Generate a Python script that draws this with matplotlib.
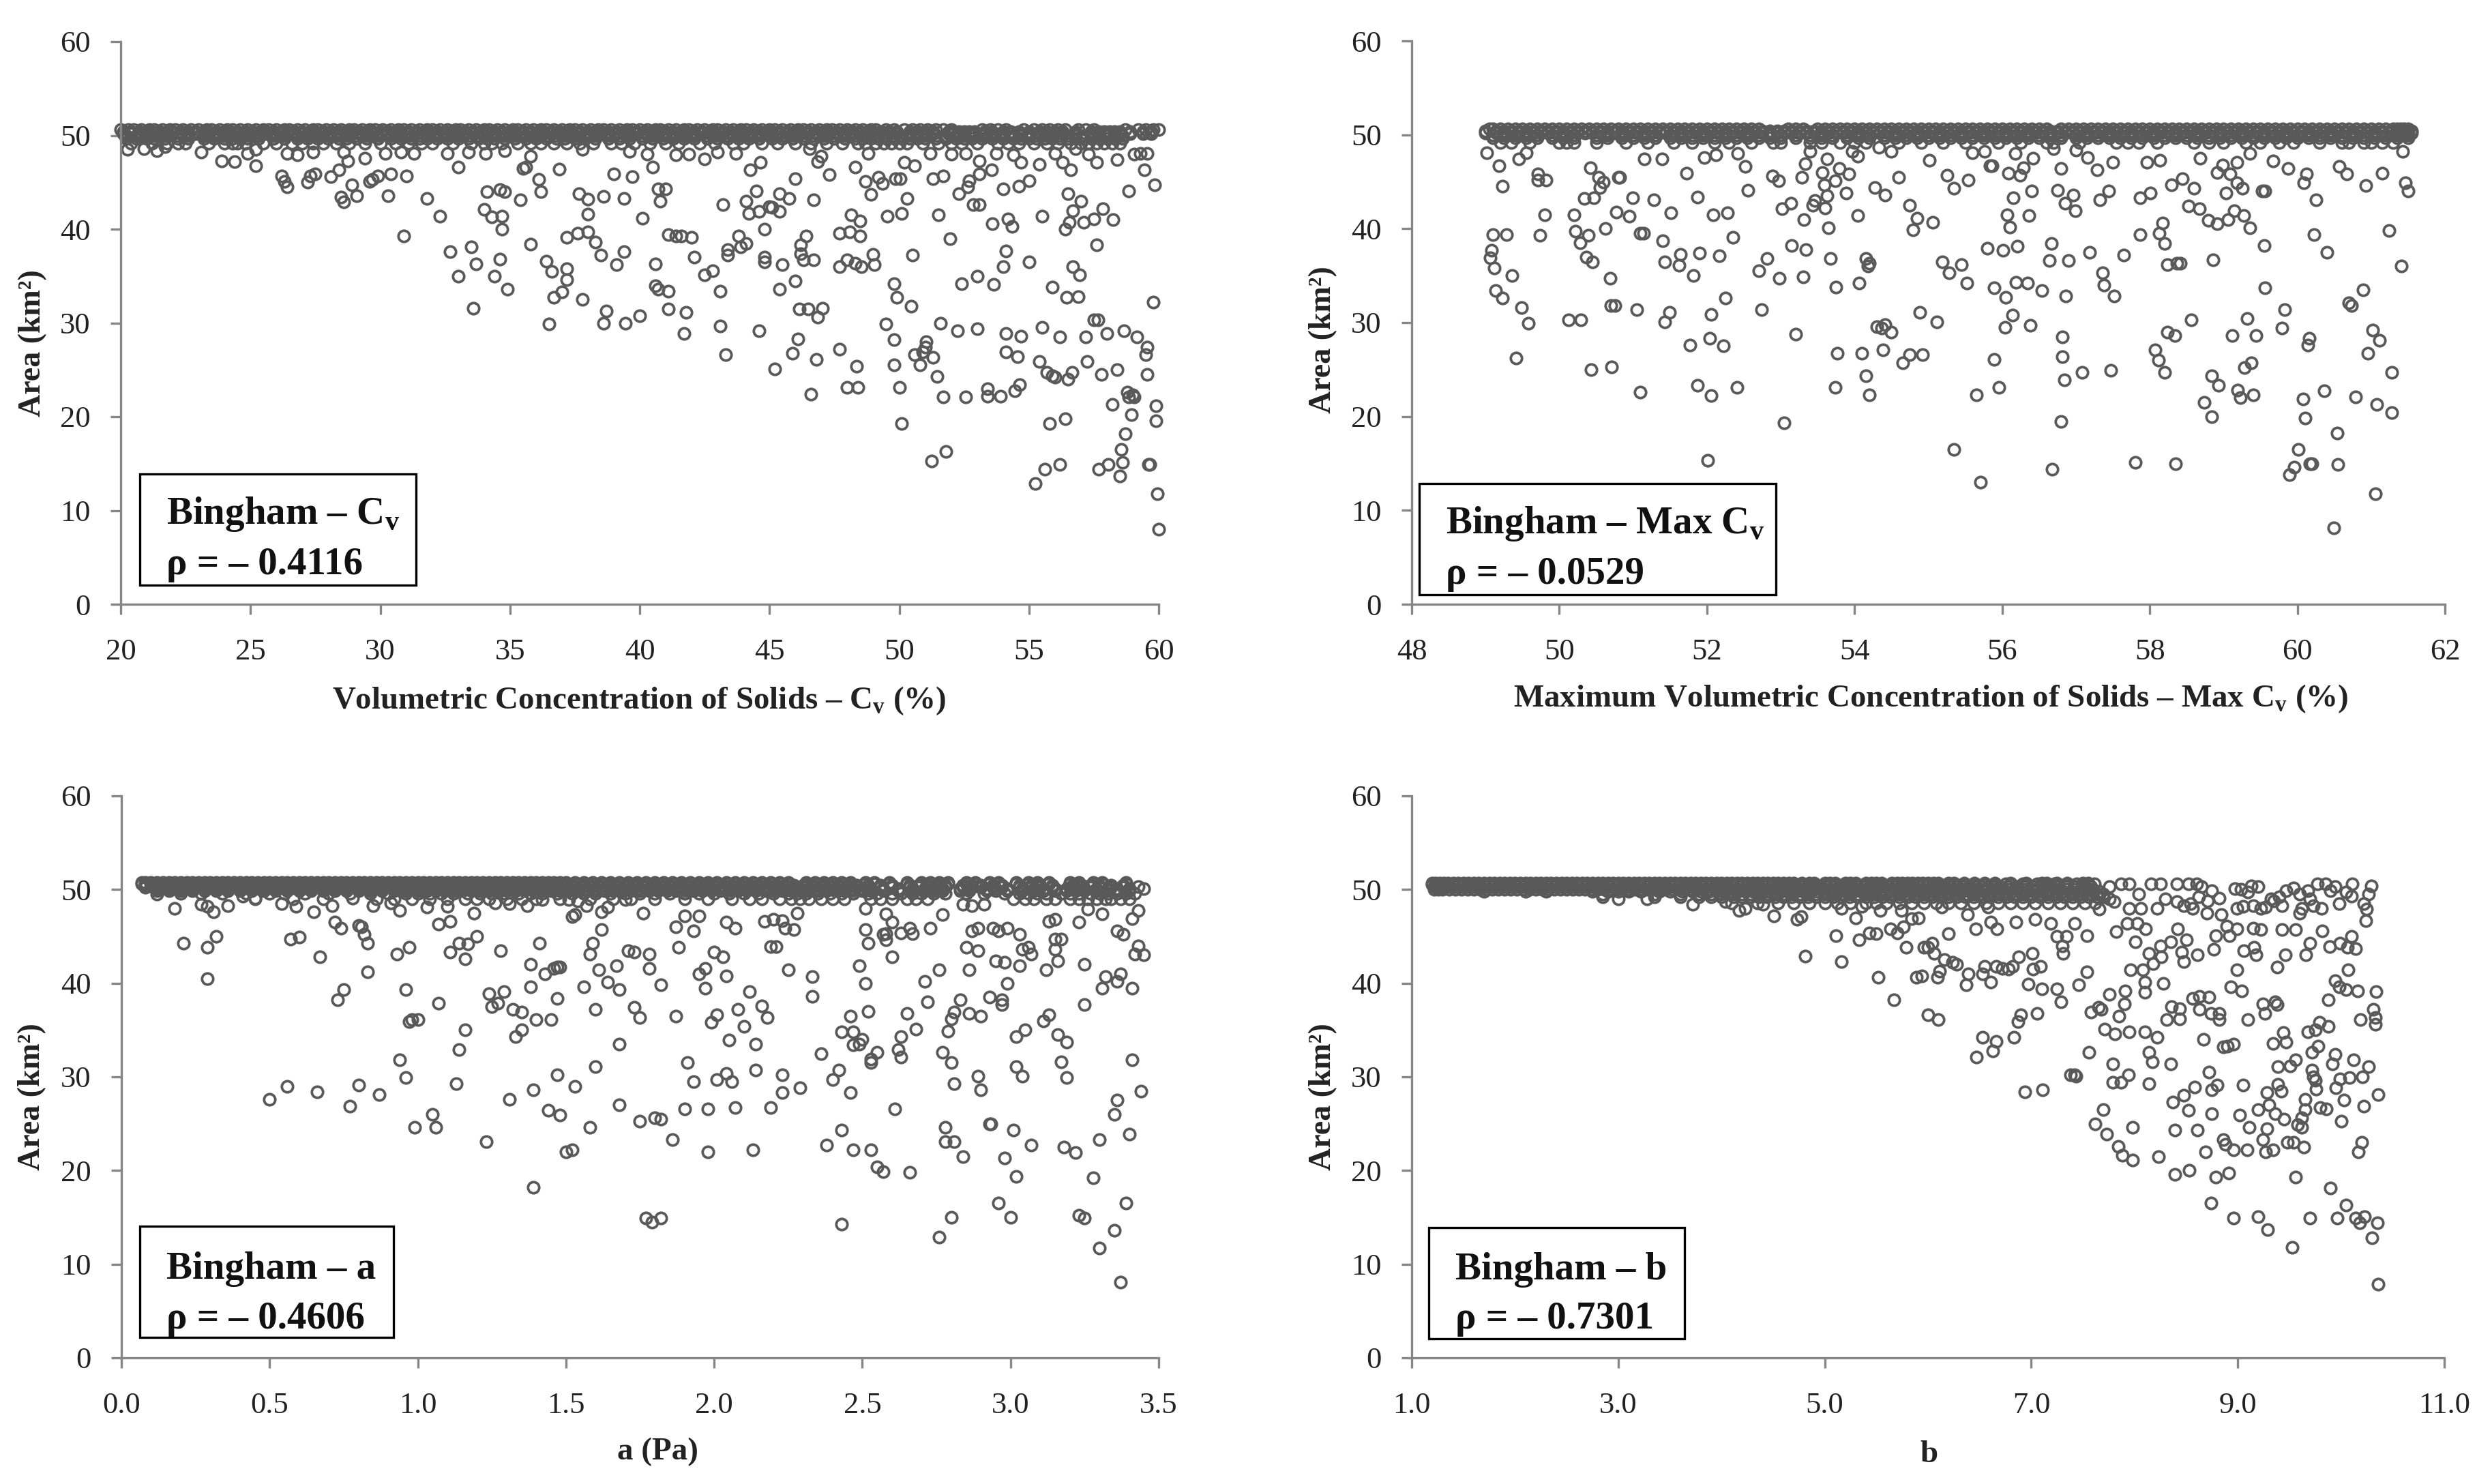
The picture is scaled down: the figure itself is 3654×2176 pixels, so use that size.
#!/usr/bin/env python3

import matplotlib
matplotlib.use("Agg")
import matplotlib.pyplot as plt
from matplotlib.patches import Rectangle

# ---- data: (x, area) for the points below the band
CV_POINTS = [
    (20.25,48.5),(20.9,48.6),(21.4,48.4),(21.7,48.8),(22.2,49.2),(23.1,48.2),(23.9,47.3),(24.4,47.2),(25.2,46.8),(24.9,48.1),
    (25.2,48.5),(26.2,45.7),(26.3,45.1),(26.4,44.5),(26.4,48.1),(26.8,47.9),(27.2,45),(27.3,45.7),(27.5,45.9),(27.4,48.2),
    (28.1,45.6),(28.4,46.3),(28.5,43.4),(28.6,42.9),(28.75,47.3),(28.9,44.7),(29.1,43.6),(28.6,48.2),(29.4,47.6),(29.6,45.1),
    (29.7,45.3),(29.9,45.7),(30.3,43.6),(30.4,45.9),(30.2,48.1),(31.0,45.7),(30.9,39.3),(30.8,48.2),(31.3,48.1),(31.8,43.3),
    (32.3,41.4),(32.7,37.6),(33.0,35),(33.0,46.6),(32.6,48.1),(33.4,48.2),(33.5,38.1),(33.7,36.3),(33.6,31.6),(34.0,42.1),
    (34.1,44),(34.3,41.3),(34.05,48.1),(34.4,35),(34.6,44.2),(34.8,44),(34.7,41.4),(34.7,40),(34.6,36.8),(34.9,33.6),
    (34.8,48.4),(35.4,43.1),(35.5,46.5),(35.6,46.6),(35.8,38.4),(35.8,47.8),(36.1,45.3),(36.2,44),(36.4,36.6),(36.6,35.5),
    (36.7,32.7),(36.5,29.9),(36.9,46.4),(37.0,33.3),(37.2,35.8),(37.2,34.6),(37.2,39.1),(37.6,39.6),(37.65,43.8),(37.8,48.5),
    (38.0,43.2),(38.0,41.6),(38.0,39.7),(37.8,32.5),(38.3,38.6),(38.5,37.2),(38.6,43.5),(38.7,31.3),(38.6,30),(39.0,45.9),
    (39.1,36.2),(39.4,43.3),(39.4,37.6),(39.45,30),(39.6,48.3),(39.7,45.6),(40.0,30.8),(40.1,41.2),(40.3,48),(40.5,46.6),
    (40.6,36.3),(40.6,34),(40.7,33.6),(40.7,44.3),(40.8,43),(41,44.3),(41.1,33.4),(41.1,31.5),(41.1,39.4),(41.4,47.9),
    (41.4,39.3),(41.6,39.3),(42.0,39.1),(41.9,48),(41.7,28.9),(41.8,31.1),(42.1,37),(42.5,47.5),(42.5,35.1),(42.8,35.6),
    (43,48.2),(43.1,33.4),(43.1,29.7),(43.2,42.6),(43.3,26.6),(43.4,37.8),(43.4,37.2),(43.7,48.1),(43.8,39.3),(43.9,38.1),
    (44.1,38.5),(44.1,43),(44.2,41.7),(44.25,46.3),(44.5,44.1),(44.6,41.9),(44.6,29.2),(44.65,47.1),(44.8,37),(44.8,36.5),
    (44.8,40),(45,42.4),(45.1,42.3),(45.4,43.8),(45.4,41.9),(45.4,33.6),(45.2,25.1),(45.5,36.2),(45.75,43.3),(45.9,26.8),
    (46,34.5),(46,45.4),(46.1,28.3),(46.15,31.5),(46.2,38.3),(46.2,37.4),(46.3,36.7),(46.4,39.3),(46.5,31.5),(46.6,22.4),
    (46.7,36.7),(46.7,43.1),(46.55,48.6),(46.8,26.1),(46.85,30.6),(46.85,47.2),(47,47.8),(47.05,31.6),(47.3,45.8),(47.7,27.2),
    (47.7,39.6),(47.7,36),(48,23.1),(48,36.7),(48.1,39.7),(48.15,41.5),(48.3,46.6),(48.3,36.4),(48.35,25.4),(48.4,23.1),
    (48.5,40.9),(48.5,39.3),(48.55,36),(48.7,45.1),(48.8,48.1),(48.9,43.7),(49,37.3),(49.05,36.2),(49.2,45.5),(49.35,44.9),
    (49.5,29.9),(49.55,41.4),(49.8,34.2),(49.8,28.2),(49.8,25.5),(49.9,32.7),(49.85,45.4),(50,23.1),(50.05,45.4),(50.1,41.7),
    (50.1,19.3),(50.2,47.1),(50.3,43.3),(50.45,31.8),(50.5,37.2),(50.6,46.8),(50.6,26.6),(50.8,25.5),(50.9,26.9),(51,27.4),
    (51.05,28),(51.2,48.1),(51.25,15.3),(51.3,26.3),(51.3,45.4),(51.45,24.3),(51.5,41.5),(51.6,30),(51.7,22.1),(51.7,45.7),
    (51.8,16.3),(51.95,39),(52,48),(52.25,29.2),(52.3,43.8),(52.4,34.2),(52.55,22.1),(52.55,48.1),(52.65,44.5),(52.7,45.2),
    (52.85,42.6),(53,29.4),(53,35),(53.1,42.6),(53.1,47.3),(53.1,45.9),(53.4,23),(53.4,22.2),(53.55,46.3),(53.6,40.6),
    (53.65,34.1),(53.75,48.1),(53.9,22.2),(54,44.3),(54,36),(54.1,37.7),(54.1,28.9),(54.1,26.9),(54.2,41.1),(54.35,40.3),
    (54.4,47.9),(54.45,22.8),(54.55,26.4),(54.6,44.6),(54.65,23.4),(54.7,28.6),(54.7,47.1),(55,45.2),(55,36.5),(55.25,12.9),
    (55.4,46.9),(55.4,25.9),(55.5,41.4),(55.5,29.5),(55.6,14.4),(55.7,24.7),(55.8,19.3),(55.9,24.4),(55.9,33.8),(56,48.1),
    (56,24.2),(56.2,14.9),(56.2,28.5),(56.3,47.1),(56.4,19.8),(56.4,40),(56.5,43.8),(56.45,32.7),(56.5,24),(56.55,40.7),
    (56.6,46.3),(56.65,24.7),(56.7,42),(56.7,36),(56.9,32.8),(56.95,35.1),(57,43),(57.1,40.7),(56.8,48.6),(57.2,28.5),
    (57.25,25.9),(57.3,48),(57.5,41.1),(57.5,30.3),(57.65,30.3),(57.6,38.3),(57.6,47.1),(57.7,14.4),(57.8,24.5),(57.85,42.2),
    (58,28.9),(58.05,14.9),(58.2,21.3),(58.25,41),(58.4,47.4),(58.4,25),(58.5,13.7),(58.55,16.5),(58.6,15.1),(58.65,29.2),
    (58.7,18.2),(58.8,22.6),(58.85,44.1),(58.85,22.1),(59,22.3),(59.05,22.1),(58.95,20.2),(59.05,48),(59.15,28.5),(59.3,48.1),
    (59.55,48.1),(59.45,46.3),(59.55,27.4),(59.5,26.6),(59.55,24.5),(59.6,14.9),(59.65,14.9),(59.8,32.2),(59.85,44.7),(59.9,21.2),
    (59.9,19.6),(59.95,11.8),(60,8),
]

MAX_CV_POINTS = [
    (49.02,48.1),(49.18,46.7),(49.23,44.5),(49.1,39.4),(49.28,39.4),(49.08,37.7),(49.06,36.9),(49.12,35.8),(49.36,35),(49.14,33.4),
    (49.23,32.6),(49.49,31.6),(49.58,29.9),(49.41,26.2),(49.45,47.4),(49.55,48.1),(49.71,45.8),(49.71,45.2),(49.82,45.2),(49.8,41.5),
    (49.74,39.3),(50.13,30.3),(50.29,30.3),(50.2,41.5),(50.22,39.7),(50.28,38.5),(50.37,37),(50.39,39.3),(50.45,36.5),(50.34,43.2),
    (50.47,43.3),(50.42,46.5),(50.53,45.5),(50.6,45),(50.55,44.4),(50.43,25),(50.71,25.3),(50.69,34.7),(50.7,31.8),(50.75,31.8),
    (50.62,40),(50.77,41.8),(50.8,45.5),(50.82,45.5),(50.95,41.3),(50.99,43.3),(51.05,31.4),(51.1,39.5),(51.14,39.5),(51.15,47.4),
    (51.1,22.6),(51.28,43.1),(51.39,47.4),(51.4,38.7),(51.43,36.5),(51.43,30.1),(51.49,31.1),(51.51,41.7),(51.62,36.1),(51.64,37.3),
    (51.72,45.9),(51.77,27.6),(51.82,35),(51.87,43.4),(51.87,23.3),(51.9,37.4),(51.96,47.6),(52.01,15.3),(52.04,28.3),(52.06,30.9),
    (52.06,22.2),(52.08,41.5),(52.12,47.9),(52.17,37.1),(52.22,27.5),(52.25,32.6),(52.28,41.7),(52.35,39.1),(52.41,23.1),(52.42,48),
    (52.52,46.6),(52.56,44.1),(52.7,35.5),(52.74,31.4),(52.81,36.8),(52.89,45.6),(52.97,45.1),(52.98,34.7),(53.02,42.1),(53.05,19.3),
    (53.14,42.7),(53.15,38.2),(53.2,28.8),(53.29,45.5),(53.3,34.9),(53.31,41),(53.33,46.9),(53.34,37.8),(53.4,48.2),(53.43,42.5),
    (53.46,43),(53.56,46),(53.59,44.7),(53.6,42.2),(53.63,47.4),(53.63,43.5),(53.65,40.1),(53.67,36.8),(53.74,45.1),(53.74,23.1),
    (53.75,33.8),(53.77,26.7),(53.79,46.4),(53.89,43.8),(53.92,45.8),(53.97,48.2),(54.04,47.7),(54.04,41.4),(54.06,34.2),(54.1,26.7),
    (54.15,24.3),(54.15,36.8),(54.2,36.3),(54.18,36),(54.2,22.3),(54.27,44.4),(54.3,29.6),(54.37,29.4),(54.41,29.8),(54.5,29),
    (54.39,27.1),(54.41,43.6),(54.33,48.7),(54.5,48.2),(54.6,45.5),(54.65,25.7),(54.75,26.6),(54.92,26.6),(54.75,42.5),(54.85,41.1),
    (54.79,39.9),(55.06,40.7),(54.88,31.1),(55.12,30.1),(55.01,47.3),(55.25,45.7),(55.35,44.3),(55.54,45.2),(55.19,36.5),(55.28,35.3),
    (55.45,36.2),(55.52,34.2),(55.35,16.5),(55.71,13),(55.65,22.3),(55.6,48.1),(55.76,48.2),(55.84,46.7),(55.86,46.7),(55.8,37.9),
    (55.89,33.7),(55.89,26.1),(55.96,23.1),(56.01,37.7),(56.05,32.7),(56.04,29.5),(56.14,30.8),(56.07,41.5),(56.1,40.2),(56.09,45.9),
    (56.15,43.3),(56.21,38.1),(56.19,34.3),(56.18,48),(56.24,45.7),(56.29,46.5),(56.34,34.2),(56.36,41.4),(56.38,29.7),(56.4,44),
    (56.42,47.5),(56.54,33.4),(56.64,36.6),(56.67,38.4),(56.68,14.4),(56.7,48.5),(56.75,44.1),(56.8,46.4),(56.8,19.5),(56.82,28.5),
    (56.82,26.4),(56.84,23.9),(56.86,32.8),(56.85,42.7),(56.9,36.6),(56.96,43.6),(56.99,41.9),(57,48.4),(57.08,24.7),(57.16,47.6),
    (57.19,37.5),(57.29,46.3),(57.32,43.1),(57.36,35.3),(57.38,34),(57.44,44),(57.47,24.9),(57.5,47.1),(57.52,32.8),(57.65,37.2),
    (57.8,15.1),(57.87,43.3),(57.87,39.4),(57.96,47.1),(58.01,43.8),(58.07,27.1),(58.12,26),(58.13,39.5),(58.17,40.6),(58.2,38.4),
    (58.14,47.3),(58.2,24.7),(58.24,36.2),(58.24,29),(58.34,28.6),(58.35,15),(58.37,36.3),(58.41,36.3),(58.29,44.7),(58.44,45.3),
    (58.53,42.4),(58.56,30.3),(58.6,44.3),(58.67,42.1),(58.68,47.5),(58.74,21.5),(58.79,40.9),(58.84,24.3),(58.84,20),(58.86,36.7),
    (58.91,40.5),(58.93,23.3),(58.91,46),(58.99,46.8),(59.03,43.8),(59.06,41),(59.09,45.8),(59.12,28.6),(59.14,41.9),(59.18,44.9),
    (59.18,47.1),(59.19,22.8),(59.23,22),(59.26,44.3),(59.27,41.4),(59.28,25.2),(59.32,30.4),(59.36,48),(59.36,40.1),(59.38,25.7),
    (59.4,22.3),(59.44,28.6),(59.52,44),(59.56,44),(59.55,38.2),(59.56,33.7),(59.67,47.2),(59.79,29.4),(59.83,31.4),(59.87,46.4),
    (59.89,13.8),(59.96,14.6),(60.01,16.5),(60.08,21.9),(60.09,44.9),(60.12,45.8),(60.11,19.8),(60.14,27.6),(60.16,28.3),(60.17,15),
    (60.2,15),(60.23,39.4),(60.25,43.1),(60.36,22.7),(60.4,37.5),(60.49,8.1),(60.54,18.2),(60.55,14.9),(60.57,46.6),(60.67,45.8),
    (60.7,32.1),(60.73,31.8),(60.79,22.1),(60.89,33.5),(60.93,44.6),(60.96,26.7),(61.02,29.2),(61.06,11.8),(61.08,21.3),(61.11,28.1),
    (61.15,45.9),(61.24,39.8),(61.28,24.7),(61.28,20.4),(61.41,36),(61.43,48.2),(61.46,44.9),(61.5,44),
]

A_POINTS = [
    (.12,49.5),(.18,48),(.21,44.3),(.27,48.4),(.29,43.8),(.29,40.5),(.29,48.2),(.31,47.6),(.32,45),(.36,48.3),
    (.41,49.3),(.45,49.1),(.5,27.6),(.54,48.5),(.56,29),(.57,44.7),(.6,44.9),(.59,48.2),(.65,47.6),(.66,28.4),
    (.67,42.8),(.71,48.3),(.72,46.5),(.74,45.9),(.73,38.2),(.75,39.3),(.77,26.9),(.78,49.1),(.8,29.1),(.8,46.2),
    (.81,46),(.82,45.2),(.83,44.3),(.83,41.2),(.85,48.3),(.87,28.1),(.91,48.6),(.93,43.1),(.94,47.8),(.94,31.8),
    (.96,29.9),(.96,39.3),(.97,43.8),(.97,35.9),(.98,36.1),(1.0,36.1),(.99,24.6),(1.03,48.1),(1.05,26),(1.06,24.6),
    (1.07,46.3),(1.07,37.9),(1.1,48.2),(1.11,46.6),(1.11,43.3),(1.13,29.3),(1.14,44.3),(1.14,32.9),(1.16,42.6),(1.16,35),
    (1.17,44.2),(1.19,47.5),(1.2,45),(1.23,23.1),(1.24,38.9),(1.25,37.5),(1.27,37.9),(1.26,48.6),(1.28,43.5),(1.29,39.1),
    (1.31,27.6),(1.31,48.5),(1.32,37.2),(1.33,34.3),(1.35,36.9),(1.35,35),(1.37,48.3),(1.38,42),(1.38,39.6),(1.39,28.6),
    (1.39,18.2),(1.4,36.1),(1.41,44.3),(1.42,48.9),(1.43,41),(1.44,26.4),(1.45,36.1),(1.46,41.6),(1.47,38.4),(1.47,30.2),
    (1.47,41.7),(1.48,25.9),(1.48,41.7),(1.5,22),(1.52,22.2),(1.51,48.9),(1.52,47.1),(1.53,47.3),(1.53,29),(1.54,48.8),
    (1.56,39.6),(1.57,48.3),(1.58,43.1),(1.58,24.6),(1.59,44.3),(1.6,31.1),(1.6,37.2),(1.61,41.4),(1.62,47.6),(1.62,45.7),
    (1.64,40.1),(1.64,48.1),(1.67,41.9),(1.68,39.3),(1.68,33.5),(1.68,27),(1.7,48.9),(1.71,43.5),(1.73,43.3),(1.73,37.4),
    (1.75,36.3),(1.75,25.3),(1.76,47.5),(1.78,43.1),(1.78,41.6),(1.77,14.9),(1.79,14.5),(1.8,25.6),(1.82,25.5),(1.82,14.9),
    (1.82,39.8),(1.86,23.3),(1.87,36.5),(1.87,46),(1.88,43.8),(1.9,47.2),(1.9,26.6),(1.91,31.5),(1.93,29.5),(1.93,45.6),
    (1.95,41),(1.95,47.2),(1.97,39.5),(1.97,41.6),(1.98,26.6),(1.98,22),(1.99,35.8),(2,43.3),(2.01,29.7),(2.01,36.6),
    (2.03,42.8),(2.04,40.8),(2.04,46.5),(2.04,30.4),(2.05,33.9),(2.06,29.5),(2.07,45.9),(2.07,26.7),(2.08,37.2),(2.1,35.4),
    (2.12,39.1),(2.13,22.2),(2.14,33.5),(2.14,30.7),(2.16,37.6),(2.17,46.6),(2.18,36.3),(2.19,26.7),(2.2,46.8),(2.19,43.9),
    (2.21,43.9),(2.23,30.2),(2.23,46.7),(2.23,28.3),(2.24,45.9),(2.25,41.4),(2.27,45.7),(2.29,28.8),(2.28,47.5),(2.33,40.7),
    (2.33,38.6),(2.36,32.5),(2.38,22.7),(2.4,29.7),(2.42,30.7),(2.43,24.3),(2.43,14.3),(2.43,34.8),(2.46,28.3),(2.46,36.5),
    (2.47,22.2),(2.47,34.8),(2.47,33.4),(2.49,33.5),(2.5,34),(2.49,41.9),(2.51,40),(2.51,45.7),(2.52,44.3),(2.51,48),
    (2.52,37),(2.53,31.9),(2.53,31.5),(2.53,22.2),(2.55,32.6),(2.55,20.4),(2.57,19.9),(2.57,45.2),(2.58,45.3),(2.58,44.6),
    (2.58,47.4),(2.6,42.8),(2.61,26.6),(2.6,46.5),(2.62,32.9),(2.63,34.3),(2.63,45.4),(2.63,32.1),(2.65,36.8),(2.66,45.9),
    (2.67,45.3),(2.66,19.8),(2.68,35.1),(2.71,40.2),(2.72,38),(2.73,45.9),(2.76,41.4),(2.76,12.9),(2.77,32.6),(2.77,47.3),
    (2.78,24.6),(2.78,23.1),(2.79,34.9),(2.8,15),(2.8,36.2),(2.81,36.9),(2.8,31.5),(2.81,23.1),(2.81,29.3),(2.83,38.2),
    (2.84,48.4),(2.84,21.5),(2.85,43.8),(2.86,41.4),(2.86,36.8),(2.87,45.6),(2.87,48.3),(2.89,30.1),(2.89,45.9),(2.89,43.5),
    (2.9,36.5),(2.9,28.6),(2.91,48.4),(2.93,38.5),(2.93,25),(2.935,25),(2.94,45.9),(2.95,42.4),(2.96,16.5),(2.96,45.6),
    (2.97,38.2),(2.97,37.7),(2.98,21.3),(2.99,45.9),(2.98,42.2),(2.99,40),(3,15),(3.01,24.3),(3.02,34.3),(3.02,31.1),
    (3.02,19.4),(3.03,45.2),(3.03,41.9),(3.04,30.1),(3.04,43.6),(3.05,35),(3.06,43.8),(3.07,43.1),(3.07,22.7),(3.11,36),
    (3.12,41.4),(3.13,36.6),(3.13,46.6),(3.15,46.8),(3.15,43.6),(3.15,44.7),(3.16,42.4),(3.16,34.5),(3.17,31.6),(3.17,44.7),
    (3.19,33.7),(3.18,22.5),(3.19,29.9),(3.22,21.9),(3.23,15.2),(3.23,46.5),(3.25,37.7),(3.25,14.9),(3.25,42),(3.26,47.9),
    (3.28,19.2),(3.3,11.7),(3.3,23.3),(3.31,39.5),(3.32,40.7),(3.31,47.4),(3.35,26),(3.35,13.6),(3.36,45.6),(3.36,27.5),
    (3.36,40.2),(3.37,41),(3.37,8.1),(3.38,45.2),(3.39,16.5),(3.4,23.9),(3.41,31.8),(3.41,46.9),(3.42,43.1),(3.43,44),
    (3.41,39.5),(3.43,47.8),(3.44,28.5),(3.45,43),(3.43,50.3),(3.45,50.1),
]

B_POINTS = [
    (3.0,49),(3.28,49),(3.72,48.4),(4.04,48.7),(4.17,47.8),(4.23,48),(4.4,48.4),(4.51,47.2),(4.73,46.8),(4.77,47.1),
    (4.81,42.9),(5.11,45.1),(5.16,42.3),(5.16,48),(5.3,47),(5.33,44.6),(5.36,48.2),(5.43,45.4),(5.5,45.3),(5.52,40.6),
    (5.54,47.8),(5.64,45.8),(5.7,45.4),(5.67,38.2),(5.74,47.8),(5.76,46),(5.79,43.8),(5.84,46.9),(5.91,47),(5.89,40.6),
    (5.94,40.8),(5.96,43.8),(6,36.6),(6.0,43.8),(6.04,44.3),(6.06,43.2),(6.09,40.6),(6.1,36.1),(6.11,41.3),(6.13,48.1),
    (6.16,42.5),(6.2,45.3),(6.24,42.2),(6.28,42),(6.37,39.8),(6.39,41),(6.38,47.3),(6.46,45.8),(6.47,32.1),(6.53,41),
    (6.55,41.8),(6.53,34.2),(6.58,48.1),(6.61,46.5),(6.61,40.1),(6.63,32.8),(6.66,33.8),(6.67,45.8),(6.66,41.8),(6.72,41.6),
    (6.78,41.5),(6.83,34.2),(6.82,41.8),(6.85,46.5),(6.88,42.8),(6.87,35.9),(6.9,36.6),(6.94,28.4),(6.97,39.9),(7.01,43.2),
    (7.02,41.5),(7.04,46.8),(7.06,36.8),(7.09,41.8),(7.1,39.4),(7.11,28.6),(7.19,46.4),(7.25,39.4),(7.25,45),(7.29,38),
    (7.3,44),(7.31,43.2),(7.34,45),(7.38,30.2),(7.42,30.2),(7.43,30.1),(7.42,46.4),(7.46,39.8),(7.54,45.1),(7.54,41.2),
    (7.56,32.6),(7.58,36.9),(7.62,25),(7.65,37.4),(7.68,37.2),(7.7,26.5),(7.73,23.9),(7.71,35.1),(7.76,38.8),(7.79,29.4),
    (7.79,31.4),(7.81,34.6),(7.82,45.5),(7.84,22.6),(7.85,36.5),(7.87,29.4),(7.88,21.6),(7.91,39.2),(7.9,37.8),(7.94,30.2),
    (7.95,34.8),(7.93,46.4),(7.96,41.4),(7.98,21.1),(7.98,24.6),(8.01,44.4),(8.03,46.4),(8.08,41.4),(8.1,34.8),(8.11,45.8),
    (8.1,39),(8.1,40.1),(8.14,32.6),(8.14,29.3),(8.14,43.2),(8.17,31.6),(8.18,42.1),(8.22,34.2),(8.23,21.5),(8.25,44),
    (8.26,42.8),(8.28,40),(8.31,36.1),(8.35,31.4),(8.35,44.4),(8.36,37.5),(8.39,19.6),(8.37,27.3),(8.39,24.3),(8.42,45.8),
    (8.44,37.3),(8.44,36.2),(8.46,43.3),(8.48,28),(8.48,42.3),(8.5,44.6),(8.52,26.4),(8.53,20),(8.56,38.4),(8.58,28.9),
    (8.61,43),(8.61,24.3),(8.63,37.2),(8.63,38.6),(8.67,34),(8.7,47.5),(8.72,38.5),(8.69,22),(8.72,30.5),(8.74,16.5),
    (8.74,36.8),(8.75,28.6),(8.75,26.1),(8.77,43.6),(8.79,45.1),(8.79,19.3),(8.8,29.1),(8.82,36.8),(8.82,36.1),(8.84,47.3),
    (8.86,33.2),(8.86,23.3),(8.88,22.8),(8.89,46.1),(8.9,33.3),(8.91,19.7),(8.92,45.1),(8.96,33.5),(8.96,14.9),(8.96,22.2),
    (8.93,39.6),(8.99,45.8),(8.99,41.4),(9.02,25.9),(9.04,39.2),(9.05,29.1),(9.06,43.5),(9.09,22.2),(9.1,36.1),(9.11,24.6),
    (9.15,45.9),(9.16,43.8),(9.18,43),(9.2,26.5),(9.2,15.1),(9.22,45.7),(9.24,37.8),(9.24,23.3),(9.26,36.8),(9.27,22),
    (9.28,28.3),(9.28,24.5),(9.29,13.7),(9.3,27),(9.34,22.2),(9.34,33.6),(9.36,38),(9.38,37.7),(9.38,41.7),(9.36,26.1),
    (9.39,31.1),(9.39,29.2),(9.42,28.5),(9.43,45.7),(9.44,34.7),(9.45,25.5),(9.46,43),(9.47,33.7),(9.48,23),(9.51,31.2),
    (9.53,11.8),(9.54,23),(9.56,31.8),(9.56,45.7),(9.56,19.3),(9.58,24.9),(9.62,24.6),(9.62,25.6),(9.64,22.5),(9.65,26.5),
    (9.65,27.6),(9.66,43),(9.68,34.8),(9.7,44.3),(9.7,14.9),(9.72,32.6),(9.72,30.7),(9.73,30),(9.75,29.6),(9.76,28.7),
    (9.75,35),(9.78,33.3),(9.79,35.8),(9.8,26.7),(9.82,45.6),(9.86,26.6),(9.88,38.2),(9.88,35.4),(9.89,43.9),(9.9,18.1),
    (9.92,31.4),(9.94,32.4),(9.94,40.3),(9.96,14.9),(9.98,39.6),(9.95,28.8),(9.99,29.8),(9.99,44.3),(10,25.3),(10.03,27.5),
    (10.05,39.3),(10.05,16.3),(10.06,43.8),(10.07,41.4),(10.08,29.9),(10.1,45),(10.12,31.8),(10.14,43.7),(10.14,14.9),(10.16,39.2),
    (10.18,14.4),(10.17,22),(10.19,36.1),(10.2,23),(10.21,30),(10.22,26.9),(10.23,15.1),(10.24,46.7),(10.27,31.1),(10.3,12.8),
    (10.31,37.2),(10.33,36.3),(10.33,35.6),(10.34,39.1),(10.35,14.4),(10.36,28.1),(10.36,7.9),
    # sparse right end of the band
    (6.75,50.6),(6.92,50.6),(7.06,50.6),(7.22,50.6),(7.44,50.6),(7.49,50.6),(7.61,50.6),(7.76,50.3),(7.87,50.6),(7.95,50.6),
    (8.04,49.5),(8.16,50.6),(8.25,50.6),(8.41,50.6),(8.52,50.6),(8.6,50.6),(8.65,50.3),(8.82,49.1),(8.97,50.1),(9.03,50),
    (9.13,50.4),(9.32,49),(9.47,49.9),(9.54,50.2),(9.68,49.9),(9.77,50.6),(9.85,50.6),(9.94,50.3),(10.11,50.6),(10.29,50.4),
    (10.27,49.5),(10.1,49.3),(9.98,48.5),(9.81,48),(9.73,48.3),(9.6,47.5),(9.62,48),(9.43,48.3),(9.35,48.8),(9.22,48),
    (9.15,48.3),(8.99,48),(8.71,48.8),(8.56,48),(8.54,48.5),(8.41,48.7),(8.22,48),(8.06,48),(7.95,48),(7.8,48.7),
    (7.66,47.9),(7.76,49),(8.3,49),(8.48,48.3),(8.62,49.2),(8.75,49.9),(9.05,48.2),(9.1,49.7),(9.2,50.3),(9.27,48.1),
    (9.4,49.2),(9.6,49.5),(9.7,49),(9.9,49.9),(10.05,49.7),(10.22,48.5),(10.25,47.9),
]

# ---- the dense band near the 50 km2 plateau, one x list per area level
CV_BAND_LEVELS = [50.6, 50.2, 49.7, 49.2, 50.4, 49.95]
CV_BAND_X = [
    [20.0,20.3,20.5,20.8,21.1,21.3,21.6,21.9,22.1,22.4,22.7,23.0,23.3,23.5,23.8,24.1,24.3,24.6,24.9,25.2,25.5,25.7,26.0,26.3,26.5,26.8,27.1,27.4,27.6,27.9,28.2,28.5,28.8,29.0,29.3,29.6,29.8,30.1,30.4,30.7,30.9,31.2,31.5,31.8,32.0,32.3,32.6,32.9,33.1,33.4,33.7,34.0,34.2,34.5,34.8,35.1,35.3,35.6,35.9,36.2,36.4,36.7,37.0,37.3,37.5,37.8,38.1,38.4,38.6,38.9,39.2,39.5,39.7,40.0,40.3,40.6,40.8,41.1,41.4,41.7,41.9,42.2,42.5,42.8,43.0,43.3,43.6,43.9,44.1,44.4,44.7,45.0,45.2,45.5,45.8,46.1,46.3,46.6,46.9,47.2,47.4,47.7,48.0,48.3,48.6,48.9,49.1,49.5,49.8,50.2,50.5,50.8,51.1,51.4,51.7,52.0,53.2,53.5,53.8,54.1,54.8,55.2,55.5,55.8,56.1,56.4,56.9,57.2,57.5,58.7,59.2,59.5,59.8,60.0],
    [20.1,20.4,20.7,21.0,21.2,21.5,21.8,22.0,22.3,22.6,22.9,23.2,23.4,23.7,24.0,24.2,24.5,24.8,25.1,25.4,25.6,25.9,26.2,26.4,26.7,27.0,27.3,27.5,27.8,28.1,28.4,28.7,28.9,29.2,29.5,29.7,30.0,30.3,30.6,30.8,31.1,31.4,31.7,31.9,32.2,32.5,32.8,33.0,33.3,33.6,33.9,34.1,34.4,34.7,35.0,35.2,35.5,35.8,36.1,36.3,36.6,36.9,37.2,37.4,37.7,38.0,38.3,38.5,38.8,39.1,39.4,39.6,39.9,40.2,40.5,40.7,41.0,41.3,41.6,41.8,42.1,42.4,42.7,42.9,43.2,43.5,43.8,44.0,44.3,44.6,44.9,45.1,45.4,45.7,46.0,46.2,46.5,46.8,47.1,47.3,47.6,47.9,48.2,48.5,48.8,49.0,49.3,49.6,49.9,50.4,50.7,51.0,51.3,51.9,52.1,52.3,52.5,52.7,52.9,53.3,53.6,54.0,54.3,54.6,55.0,55.4,55.7,56.0,56.3,56.8,57.4,57.7,57.9,58.1,58.3,58.5,58.9,59.4,59.7],
    [20.2,20.6,21.0,21.3,21.7,22.2,22.6,23.2,23.6,24.0,24.3,24.6,24.9,25.3,25.9,26.3,26.8,27.2,27.6,28.0,28.4,28.7,29.1,29.5,29.9,30.4,30.8,31.2,31.5,31.8,32.2,32.6,33.0,33.4,33.8,34.1,34.4,34.8,35.2,35.6,36.0,36.4,36.8,37.1,37.5,37.9,38.3,38.8,39.2,39.6,40.1,40.5,40.9,41.3,41.7,42.1,42.6,43.0,43.4,43.8,44.2,44.6,45.1,45.5,45.9,46.3,46.7,47.1,47.5,47.9,48.3,48.6,48.9,49.2,49.5,49.8,50.1,50.4,50.7,51.0,51.4,51.8,52.2,52.5,52.8,53.2,53.6,54.0,54.4,54.7,55.0,55.3,55.6,55.9,56.2,56.5,56.8,57.1,57.4,57.7,58.0,58.3,58.6],
    [20.4,21.2,21.8,22.5,23.4,24.0,24.3,24.5,24.8,25.5,26.0,26.6,27.0,27.4,27.8,28.3,28.8,29.4,30.0,30.6,31.1,31.6,32.0,32.8,33.5,34.0,34.3,34.7,35.3,35.8,36.2,36.7,37.2,37.7,38.2,38.9,39.3,39.8,40.4,41.0,41.5,42.3,42.9,43.6,44.0,44.7,45.3,46.0,46.6,47.2,47.8,48.4,48.7,49.1,49.4,49.7,50.0,50.3,50.9,51.5,52.0,52.4,53.0,53.8,54.2,54.6,55.2,55.7,56.1,56.6,57.0,57.3,57.6,57.9,58.2,58.5],
]
CV_BAND_X = CV_BAND_X + CV_BAND_X[1:3]

MAX_CV_BAND_LEVELS = [50.65, 50.2, 49.7, 49.2, 50.4, 49.95]
MAX_CV_BAND_X = [
    [49.05,49.1,49.2,49.3,49.4,49.5,49.6,49.7,49.8,49.9,50.0,50.1,50.2,50.3,50.4,50.5,50.6,50.7,50.8,50.9,51.0,51.1,51.2,51.3,51.4,51.5,51.6,51.7,51.8,51.9,52.0,52.1,52.2,52.3,52.4,52.5,52.6,52.7,53.1,53.2,53.3,53.5,53.6,53.7,53.8,53.9,54.0,54.1,54.2,54.3,54.4,54.5,54.6,54.7,54.8,54.9,55.0,55.1,55.2,55.3,55.4,55.5,55.6,55.7,55.8,55.9,56.0,56.1,56.2,56.3,56.4,56.5,56.6,56.8,56.9,57.0,57.1,57.2,57.3,57.4,57.5,57.6,57.7,57.8,57.9,58.0,58.1,58.2,58.3,58.4,58.5,58.6,58.7,58.8,58.9,59.0,59.1,59.2,59.3,59.4,59.5,59.6,59.7,59.8,59.9,60.0,60.1,60.2,60.3,60.4,60.5,60.6,60.7,60.8,60.9,61.0,61.1,61.2,61.3,61.35,61.4,61.45,61.5],
    [49.0,49.15,49.25,49.35,49.45,49.55,49.65,49.75,49.85,49.95,50.05,50.15,50.25,50.35,50.45,50.55,50.65,50.75,50.85,50.95,51.05,51.15,51.25,51.35,51.45,51.55,51.65,51.75,51.85,51.95,52.05,52.15,52.25,52.35,52.45,52.55,52.65,52.75,52.85,52.95,53.05,53.15,53.25,53.35,53.45,53.55,53.65,53.75,53.85,53.95,54.05,54.15,54.25,54.35,54.45,54.55,54.65,54.75,54.85,54.95,55.05,55.15,55.25,55.35,55.45,55.55,55.65,55.75,55.85,55.95,56.05,56.15,56.25,56.35,56.45,56.55,56.65,56.75,56.85,56.95,57.05,57.15,57.25,57.35,57.45,57.55,57.65,57.75,57.85,57.95,58.05,58.15,58.25,58.35,58.45,58.55,58.65,58.75,58.85,58.95,59.05,59.15,59.25,59.35,59.45,59.55,59.65,59.75,59.85,59.95,60.05,60.15,60.25,60.35,60.45,60.55,60.65,60.75,60.85,60.95,61.05,61.15,61.25,61.35,61.42,61.5,61.55],
    [49.1,49.25,49.4,49.55,49.7,49.9,50.05,50.2,50.5,50.65,50.85,51.0,51.15,51.3,51.5,51.65,51.8,51.95,52.1,52.25,52.4,52.55,52.7,52.85,53.0,53.2,53.4,53.55,53.7,53.9,54.05,54.2,54.4,54.55,54.7,54.85,55.0,55.15,55.3,55.45,55.6,55.75,55.9,56.05,56.2,56.35,56.5,56.65,56.8,57.0,57.15,57.3,57.45,57.6,57.75,57.9,58.05,58.2,58.35,58.5,58.65,58.8,58.95,59.1,59.25,59.4,59.55,59.7,59.85,60.0,60.15,60.3,60.45,60.6,60.75,60.9,61.05,61.2,61.35,61.5],
    [49.2,49.35,49.6,50.0,50.1,50.2,50.5,50.9,51.2,51.55,51.8,52.1,52.3,52.6,52.9,53.0,53.4,53.55,53.8,54.0,54.15,54.6,54.9,55.2,55.5,55.95,56.25,56.6,56.7,57.05,57.55,57.7,57.85,58.1,58.6,58.8,59.0,59.3,59.5,59.75,59.95,60.3,60.6,60.7,60.9,61.0,61.15,61.3],
]
MAX_CV_BAND_X = MAX_CV_BAND_X + MAX_CV_BAND_X[1:3]

A_BAND_LEVELS = [50.75, 50.45, 50.1, 49.6, 49.0, 50.6, 50.25, 49.85]
A_BAND_X = [
    [.07,.08,.1,.12,.14,.16,.18,.2,.22,.24,.26,.28,.3,.32,.34,.36,.38,.4,.42,.44,.46,.48,.5,.52,.54,.56,.58,.6,.62,.64,.66,.68,.7,.72,.74,.76,.78,.8,.82,.84,.86,.88,.9,.92,.94,.96,.98,1.0,1.02,1.04,1.06,1.08,1.1,1.12,1.14,1.16,1.18,1.2,1.22,1.24,1.26,1.28,1.3,1.32,1.34,1.36,1.38,1.4,1.42,1.44,1.46,1.48,1.5,1.53,1.56,1.59,1.62,1.65,1.68,1.71,1.74,1.77,1.8,1.83,1.86,1.89,1.92,1.95,1.98,2.01,2.04,2.07,2.1,2.13,2.16,2.19,2.22,2.25,2.31,2.34,2.37,2.4,2.43,2.46,2.51,2.54,2.59,2.65,2.7,2.73,2.76,2.79,2.85,2.88,2.93,2.96,3.02,3.06,3.09,3.13,3.2,3.23,3.28,3.31,3.39],
    [.08,.11,.13,.15,.17,.19,.21,.23,.25,.27,.29,.31,.33,.35,.37,.39,.41,.43,.45,.47,.49,.51,.53,.55,.57,.59,.61,.63,.65,.67,.69,.71,.73,.75,.77,.79,.81,.83,.85,.87,.89,.91,.93,.95,.97,.99,1.01,1.03,1.05,1.07,1.09,1.11,1.13,1.15,1.17,1.19,1.21,1.23,1.25,1.27,1.29,1.31,1.33,1.35,1.37,1.39,1.41,1.43,1.45,1.47,1.49,1.52,1.55,1.58,1.61,1.64,1.67,1.7,1.73,1.76,1.79,1.82,1.85,1.88,1.91,1.94,1.97,2.0,2.03,2.06,2.09,2.12,2.15,2.18,2.21,2.24,2.27,2.3,2.33,2.36,2.39,2.42,2.45,2.48,2.52,2.56,2.6,2.66,2.69,2.72,2.75,2.78,2.84,2.87,2.9,2.94,2.97,3.03,3.07,3.1,3.14,3.21,3.24,3.27,3.3,3.34,3.38],
    [.12,.16,.2,.24,.28,.32,.36,.4,.44,.48,.52,.56,.6,.64,.68,.72,.76,.8,.84,.88,.92,.96,1.0,1.03,1.06,1.09,1.12,1.15,1.18,1.21,1.24,1.27,1.3,1.33,1.36,1.39,1.42,1.45,1.48,1.51,1.54,1.57,1.6,1.63,1.66,1.69,1.72,1.75,1.78,1.81,1.84,1.87,1.9,1.93,1.96,1.99,2.02,2.05,2.08,2.11,2.14,2.17,2.2,2.23,2.26,2.29,2.32,2.35,2.38,2.41,2.44,2.47,2.5,2.53,2.57,2.62,2.67,2.71,2.74,2.77,2.83,2.86,2.92,2.95,2.99,3.04,3.08,3.11,3.15,3.19,3.22,3.25,3.29,3.33,3.36,3.4],
    [.2,.27,.34,.42,.5,.55,.62,.7,.77,.84,.9,.96,1.0,1.04,1.08,1.12,1.17,1.21,1.25,1.29,1.34,1.38,1.42,1.47,1.52,1.56,1.6,1.65,1.7,1.75,1.8,1.85,1.9,1.95,2.0,2.05,2.1,2.15,2.2,2.25,2.28,2.31,2.35,2.39,2.43,2.47,2.52,2.55,2.6,2.63,2.67,2.7,2.74,2.78,2.85,2.91,2.98,3.03,3.06,3.09,3.12,3.17,3.2,3.23,3.27,3.3,3.33,3.36,3.39,3.42],
    [.45,.58,.68,.86,.92,.98,1.04,1.1,1.16,1.2,1.24,1.3,1.35,1.4,1.48,1.58,1.66,1.72,1.8,1.9,1.98,2.06,2.12,2.16,2.22,2.26,2.29,2.32,2.36,2.4,2.44,2.53,2.56,2.6,2.65,2.68,2.72,3.01,3.05,3.08,3.12,3.15,3.2,3.23,3.26,3.29,3.32,3.34,3.37,3.4],
]
A_BAND_X = A_BAND_X + A_BAND_X[:3]

B_BAND_LEVELS = [50.65, 50.3, 49.8, 49.2, 48.6, 50.5, 50.05, 49.5]
B_BAND_X = [
    [1.2,1.23,1.27,1.31,1.35,1.4,1.45,1.5,1.55,1.6,1.65,1.7,1.75,1.8,1.85,1.9,1.95,2.0,2.05,2.1,2.15,2.2,2.25,2.3,2.35,2.4,2.45,2.5,2.55,2.6,2.65,2.7,2.75,2.8,2.85,2.9,2.95,3.0,3.05,3.1,3.15,3.2,3.25,3.3,3.35,3.4,3.45,3.5,3.55,3.6,3.65,3.7,3.75,3.8,3.85,3.9,3.95,4.0,4.05,4.1,4.15,4.2,4.25,4.3,4.35,4.4,4.45,4.5,4.55,4.6,4.65,4.7,4.78,4.85,4.9,5.0,5.05,5.1,5.2,5.25,5.3,5.4,5.45,5.5,5.55,5.65,5.7,5.75,5.8,5.85,5.9,5.95,6.0,6.05,6.1,6.2,6.25,6.35,6.45,6.55,6.65,6.8,6.95,7.1,7.15,7.25,7.35,7.5,7.55],
    [1.22,1.26,1.3,1.36,1.42,1.48,1.54,1.6,1.66,1.72,1.78,1.84,1.9,1.96,2.02,2.08,2.14,2.2,2.26,2.32,2.38,2.44,2.5,2.56,2.62,2.68,2.74,2.8,2.86,2.92,2.98,3.04,3.1,3.16,3.22,3.28,3.34,3.4,3.46,3.52,3.58,3.64,3.7,3.76,3.82,3.88,3.94,4.0,4.06,4.12,4.18,4.24,4.3,4.36,4.42,4.48,4.54,4.6,4.66,4.72,4.78,4.84,4.9,4.96,5.02,5.08,5.14,5.2,5.26,5.32,5.38,5.44,5.5,5.56,5.62,5.68,5.74,5.8,5.86,5.92,5.98,6.04,6.1,6.16,6.22,6.28,6.34,6.4,6.46,6.52,6.58,6.64,6.7,6.78,6.86,6.94,7.02,7.1,7.18,7.26,7.34,7.42,7.5,7.58],
    [1.7,2.1,2.3,2.75,2.9,3.0,3.1,3.22,3.4,3.5,3.62,3.72,3.8,3.88,3.95,4.02,4.09,4.16,4.23,4.3,4.37,4.44,4.51,4.58,4.65,4.72,4.79,4.86,4.93,5.0,5.07,5.14,5.21,5.28,5.35,5.42,5.49,5.56,5.63,5.7,5.77,5.84,5.91,5.98,6.05,6.12,6.19,6.26,6.33,6.4,6.47,6.54,6.61,6.68,6.75,6.82,6.89,6.96,7.03,7.1,7.17,7.24,7.31,7.38,7.45,7.52,7.59,7.66],
    [2.85,3.35,3.6,3.78,3.9,4.0,4.12,4.2,4.28,4.36,4.44,4.52,4.6,4.68,4.76,4.84,4.92,5.0,5.08,5.16,5.24,5.32,5.4,5.48,5.56,5.64,5.72,5.8,5.88,5.96,6.04,6.12,6.2,6.28,6.36,6.44,6.52,6.6,6.68,6.76,6.84,6.92,7.0,7.08,7.16,7.24,7.32,7.4,7.48,7.56,7.64,7.7],
    [4.1,4.35,4.55,4.7,4.85,5.0,5.12,5.25,5.4,5.5,5.6,5.72,5.84,5.96,6.08,6.2,6.32,6.44,6.56,6.68,6.8,6.92,7.04,7.16,7.28,7.4,7.52,7.62],
]
B_BAND_X = B_BAND_X + [B_BAND_X[0], B_BAND_X[1], B_BAND_X[3]]

CV_TICKS = [20, 25, 30, 35, 40, 45, 50, 55, 60]
MAX_CV_TICKS = [48, 50, 52, 54, 56, 58, 60, 62]
A_TICKS = [0.0, 0.5, 1.0, 1.5, 2.0, 2.5, 3.0, 3.5]
B_TICKS = [1.0, 3.0, 5.0, 7.0, 9.0, 11.0]
AREA_TICKS = [0, 10, 20, 30, 40, 50, 60]

WIDTH = 3655
HEIGHT = 2176
AXIS_COLOR = "#868686"
MARK_COLOR = "#595959"
TEXT_COLOR = "#222222"

plt.rcParams["font.family"] = ["Liberation Serif", "DejaVu Serif"]
plt.rcParams["mathtext.fontset"] = "custom"
plt.rcParams["mathtext.rm"] = "Liberation Serif"
plt.rcParams["mathtext.bf"] = "Liberation Serif:bold"


def fx(px):
    return px / WIDTH


def fy(px):
    return 1.0 - px / HEIGHT


def draw_panel(fig, box, xlim, xticks, fmt, points, levels, band_x):
    left, right, top, bottom = box
    ax = fig.add_axes([fx(left), fy(bottom), fx(right - left), (bottom - top) / HEIGHT])

    for level, xs in zip(levels, band_x):
        ax.plot(xs, [level] * len(xs), "o", ms=11.8, mfc="none", mec=MARK_COLOR, mew=2.7, clip_on=False)

    xs, ys = zip(*points)
    ax.plot(xs, ys, "o", ms=11.8, mfc="none", mec=MARK_COLOR, mew=2.7, clip_on=False)

    ax.set_xlim(*xlim)
    ax.set_ylim(0, 60)
    ax.set_xticks(xticks)
    ax.set_xticklabels([fmt.format(t) for t in xticks])
    ax.set_yticks(AREA_TICKS)

    ax.spines["top"].set_visible(False)
    ax.spines["right"].set_visible(False)
    ax.spines["left"].set_color(AXIS_COLOR)
    ax.spines["bottom"].set_color(AXIS_COLOR)
    ax.spines["left"].set_linewidth(2.4)
    ax.spines["bottom"].set_linewidth(2.4)
    ax.tick_params(axis="x", length=11, width=2.4, color=AXIS_COLOR, pad=25, labelsize=32, labelcolor=TEXT_COLOR)
    ax.tick_params(axis="y", length=11, width=2.4, color=AXIS_COLOR, pad=21, labelsize=32, labelcolor=TEXT_COLOR)
    return ax


def label_x(fig, cx, cy, text):
    fig.text(fx(cx), fy(cy), text, ha="center", va="center", fontsize=33.8,
             fontweight="bold", color=TEXT_COLOR)


def label_y(fig, cx, cy):
    fig.text(fx(cx), fy(cy), "Area (km²)", ha="center", va="center", rotation=90,
             fontsize=33, fontweight="bold", color=TEXT_COLOR)


def note(fig, box, tx, base1, base2, line1, line2):
    left, right, top, bottom = box
    fig.add_artist(Rectangle((fx(left), fy(bottom)), fx(right - left), (bottom - top) / HEIGHT,
                             transform=fig.transFigure, fc="white", ec="black", lw=2.4, zorder=2))
    fig.text(fx(tx), fy(base1), line1, ha="left", va="baseline", fontsize=41, fontweight="bold", color="#111111", zorder=3)
    fig.text(fx(tx), fy(base2), line2, ha="left", va="baseline", fontsize=41, fontweight="bold", color="#111111", zorder=3)


def main():
    fig = plt.figure(figsize=(WIDTH / 100, HEIGHT / 100), dpi=100, facecolor="white")

    draw_panel(fig, (177, 1699, 61, 886), (20, 60), CV_TICKS, "{:d}", CV_POINTS, CV_BAND_LEVELS, CV_BAND_X)
    draw_panel(fig, (2070, 3585, 60, 886), (48, 62), MAX_CV_TICKS, "{:d}", MAX_CV_POINTS, MAX_CV_BAND_LEVELS, MAX_CV_BAND_X)
    draw_panel(fig, (178, 1699, 1167, 1991), (0, 3.5), A_TICKS, "{:.1f}", A_POINTS, A_BAND_LEVELS, A_BAND_X)
    draw_panel(fig, (2070, 3584, 1167, 1991), (1, 11), B_TICKS, "{:.1f}", B_POINTS, B_BAND_LEVELS, B_BAND_X)

    label_y(fig, 48, 503)
    label_y(fig, 1940, 498)
    label_y(fig, 47, 1608)
    label_y(fig, 1940, 1608)

    label_x(fig, 937, 1028, r"Volumetric Concentration of Solids – C$_{\mathbf{v}}$ (%)")
    label_x(fig, 2831, 1025, r"Maximum Volumetric Concentration of Solids – Max C$_{\mathbf{v}}$ (%)")
    label_x(fig, 965, 2129, "a (Pa)")
    label_x(fig, 2828, 2133, "b")

    note(fig, (205, 610, 695, 858), 244, 768, 842, r"Bingham – C$_{\mathbf{v}}$", "ρ = – 0.4116")
    note(fig, (2081, 2604, 709, 872), 2120, 782, 856, r"Bingham – Max C$_{\mathbf{v}}$", "ρ = – 0.0529")
    note(fig, (205, 577, 1798, 1961), 244, 1875, 1948, "Bingham – a", "ρ = – 0.4606")
    note(fig, (2095, 2470, 1800, 1963), 2134, 1876, 1948, "Bingham – b", "ρ = – 0.7301")

    fig.savefig("out.png", dpi=100)
    plt.close(fig)


if __name__ == "__main__":
    main()
